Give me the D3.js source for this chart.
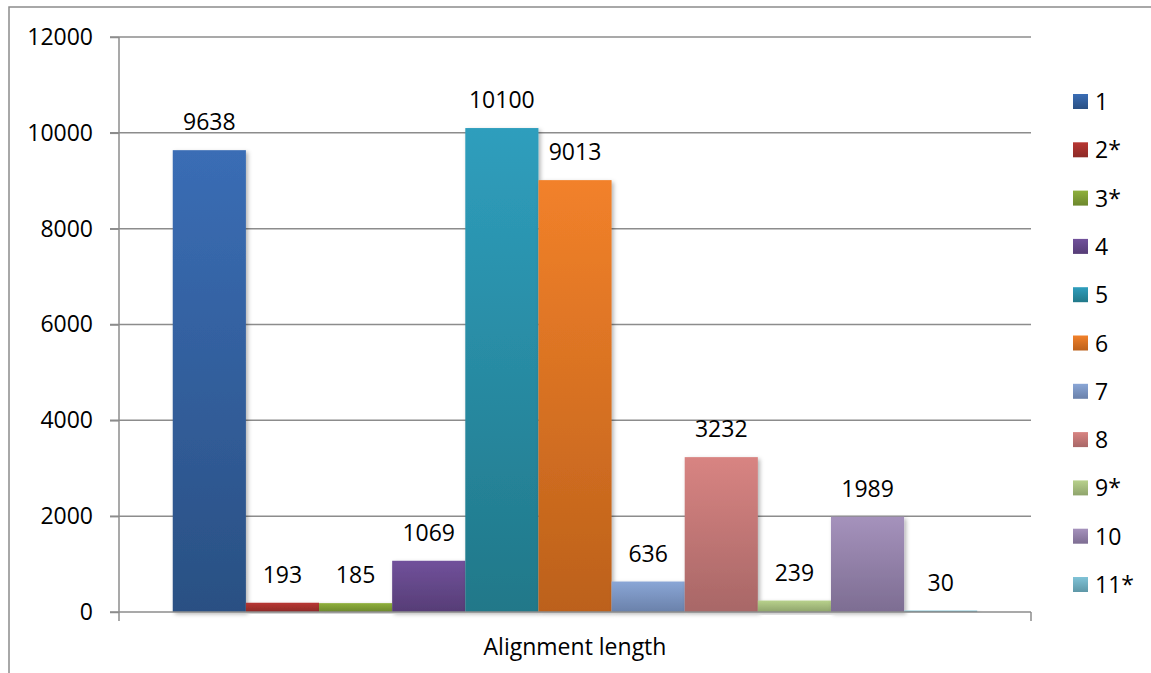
<!DOCTYPE html>
<html>
<head>
<meta charset="utf-8">
<script src="https://cdn.jsdelivr.net/npm/d3@7"></script>
<style>
	body { margin: 0; background: #fff; }
	text { font-family: "Open Sans", sans-serif; font-size: 23px; fill: #000; }
</style>
</head>
<body>
<svg id="chart" width="1151" height="673"></svg>
<script>

var series = ["1", "2*", "3*", "4", "5", "6", "7", "8", "9*", "10", "11*"];
var values = [9638, 193, 185, 1069, 10100, 9013, 636, 3232, 239, 1989, 30];
var topColors = ["#3a6db5", "#b83632", "#8fb03c", "#71519b", "#2f9ebd", "#f2812a", "#8aa6d6", "#d88482", "#b8d18c", "#a592bc", "#80c3d7"];
var bottomColors = ["#2a5083", "#8c2a27", "#6c872d", "#563d76", "#217889", "#bc611b", "#6a81aa", "#a86767", "#8fa46c", "#7d6d92", "#5e97a7"];
var yTicks = [0, 2000, 4000, 6000, 8000, 10000, 12000];
var categoryLabel = "Alignment length";

var svg = d3.select("#chart");

var plot = {left: 119, right: 1031, top: 37, bottom: 612};

var y = d3.scaleLinear().domain([0, 12000]).range([plot.bottom, plot.top]);

var x = d3.scaleBand()
	.domain(series)
	.range([plot.left, plot.right])
	.paddingInner(0)
	.paddingOuter(0.735);

var defs = svg.append("defs");

series.forEach(function (s, i) {
	var g = defs.append("linearGradient")
	.attr("id", "grad" + i)
	.attr("x1", 0).attr("y1", 0)
	.attr("x2", 0).attr("y2", 1);
	g.append("stop").attr("offset", "0%").attr("stop-color", topColors[i]);
	g.append("stop").attr("offset", "100%").attr("stop-color", bottomColors[i]);
});

defs.append("filter")
.attr("id", "shadow")
.attr("x", "-20%").attr("y", "-20%")
.attr("width", "140%").attr("height", "140%")
.append("feDropShadow")
.attr("dx", 2).attr("dy", 2)
.attr("stdDeviation", 2)
.attr("flood-color", "#000")
.attr("flood-opacity", 0.3);

// Outer border
svg.append("rect")
.attr("x", 9).attr("y", 7)
.attr("width", 1160).attr("height", 700)
.attr("fill", "none")
.attr("stroke", "#8c8c8c")
.attr("stroke-width", 1.5);

// Gridlines
svg.append("g")
.selectAll("line")
.data(yTicks.filter(function (d) { return d > 0; }))
.enter().append("line")
.attr("x1", plot.left - 9)
.attr("x2", plot.right)
.attr("y1", function (d) { return y(d); })
.attr("y2", function (d) { return y(d); })
.attr("stroke", "#8c8c8c")
.attr("stroke-width", 1.5);

// Y axis
var yAxis = svg.append("g")
.attr("transform", "translate(" + plot.left + ",0)")
.call(d3.axisLeft(y).tickValues(yTicks).tickFormat(d3.format("d")).tickSize(9).tickPadding(17));

yAxis.select(".domain").remove();
yAxis.selectAll("line").attr("stroke", "#8c8c8c").attr("stroke-width", 1.5);
yAxis.selectAll("text").style("font-size", "23px").attr("fill", "#000");

svg.append("line")
.attr("x1", plot.left).attr("x2", plot.left)
.attr("y1", plot.top).attr("y2", plot.bottom + 9)
.attr("stroke", "#8c8c8c")
.attr("stroke-width", 1.5);

// Bars
svg.append("g")
.selectAll("rect")
.data(values)
.enter().append("rect")
.attr("x", function (d, i) { return x(series[i]); })
.attr("y", function (d) { return y(d); })
.attr("width", x.bandwidth())
.attr("height", function (d) { return y(0) - y(d); })
.attr("fill", function (d, i) { return "url(#grad" + i + ")"; })
.attr("filter", "url(#shadow)");

// X axis
svg.append("line")
.attr("x1", plot.left - 9).attr("x2", plot.right)
.attr("y1", plot.bottom).attr("y2", plot.bottom)
.attr("stroke", "#8c8c8c")
.attr("stroke-width", 1.5);

svg.append("line")
.attr("x1", plot.right).attr("x2", plot.right)
.attr("y1", plot.bottom).attr("y2", plot.bottom + 9)
.attr("stroke", "#8c8c8c")
.attr("stroke-width", 1.5);

svg.append("text")
.attr("x", (plot.left + plot.right) / 2)
.attr("y", 655)
.attr("text-anchor", "middle")
.text(categoryLabel);

// Value labels
svg.append("g")
.selectAll("text")
.data(values)
.enter().append("text")
.attr("x", function (d, i) { return x(series[i]) + x.bandwidth() / 2; })
.attr("y", function (d) { return y(d) - 20; })
.attr("text-anchor", "middle")
.text(function (d) { return d; });

// Legend
var legend = svg.append("g")
.selectAll("g")
.data(series)
.enter().append("g")
.attr("transform", function (d, i) { return "translate(1073," + (94 + i * 48.3) + ")"; });

legend.append("rect")
.attr("width", 15).attr("height", 15)
.attr("fill", function (d, i) { return "url(#grad" + i + ")"; });

legend.append("text")
.attr("x", 22)
.attr("y", 16)
.text(function (d) { return d; });

</script>
</body>
</html>
